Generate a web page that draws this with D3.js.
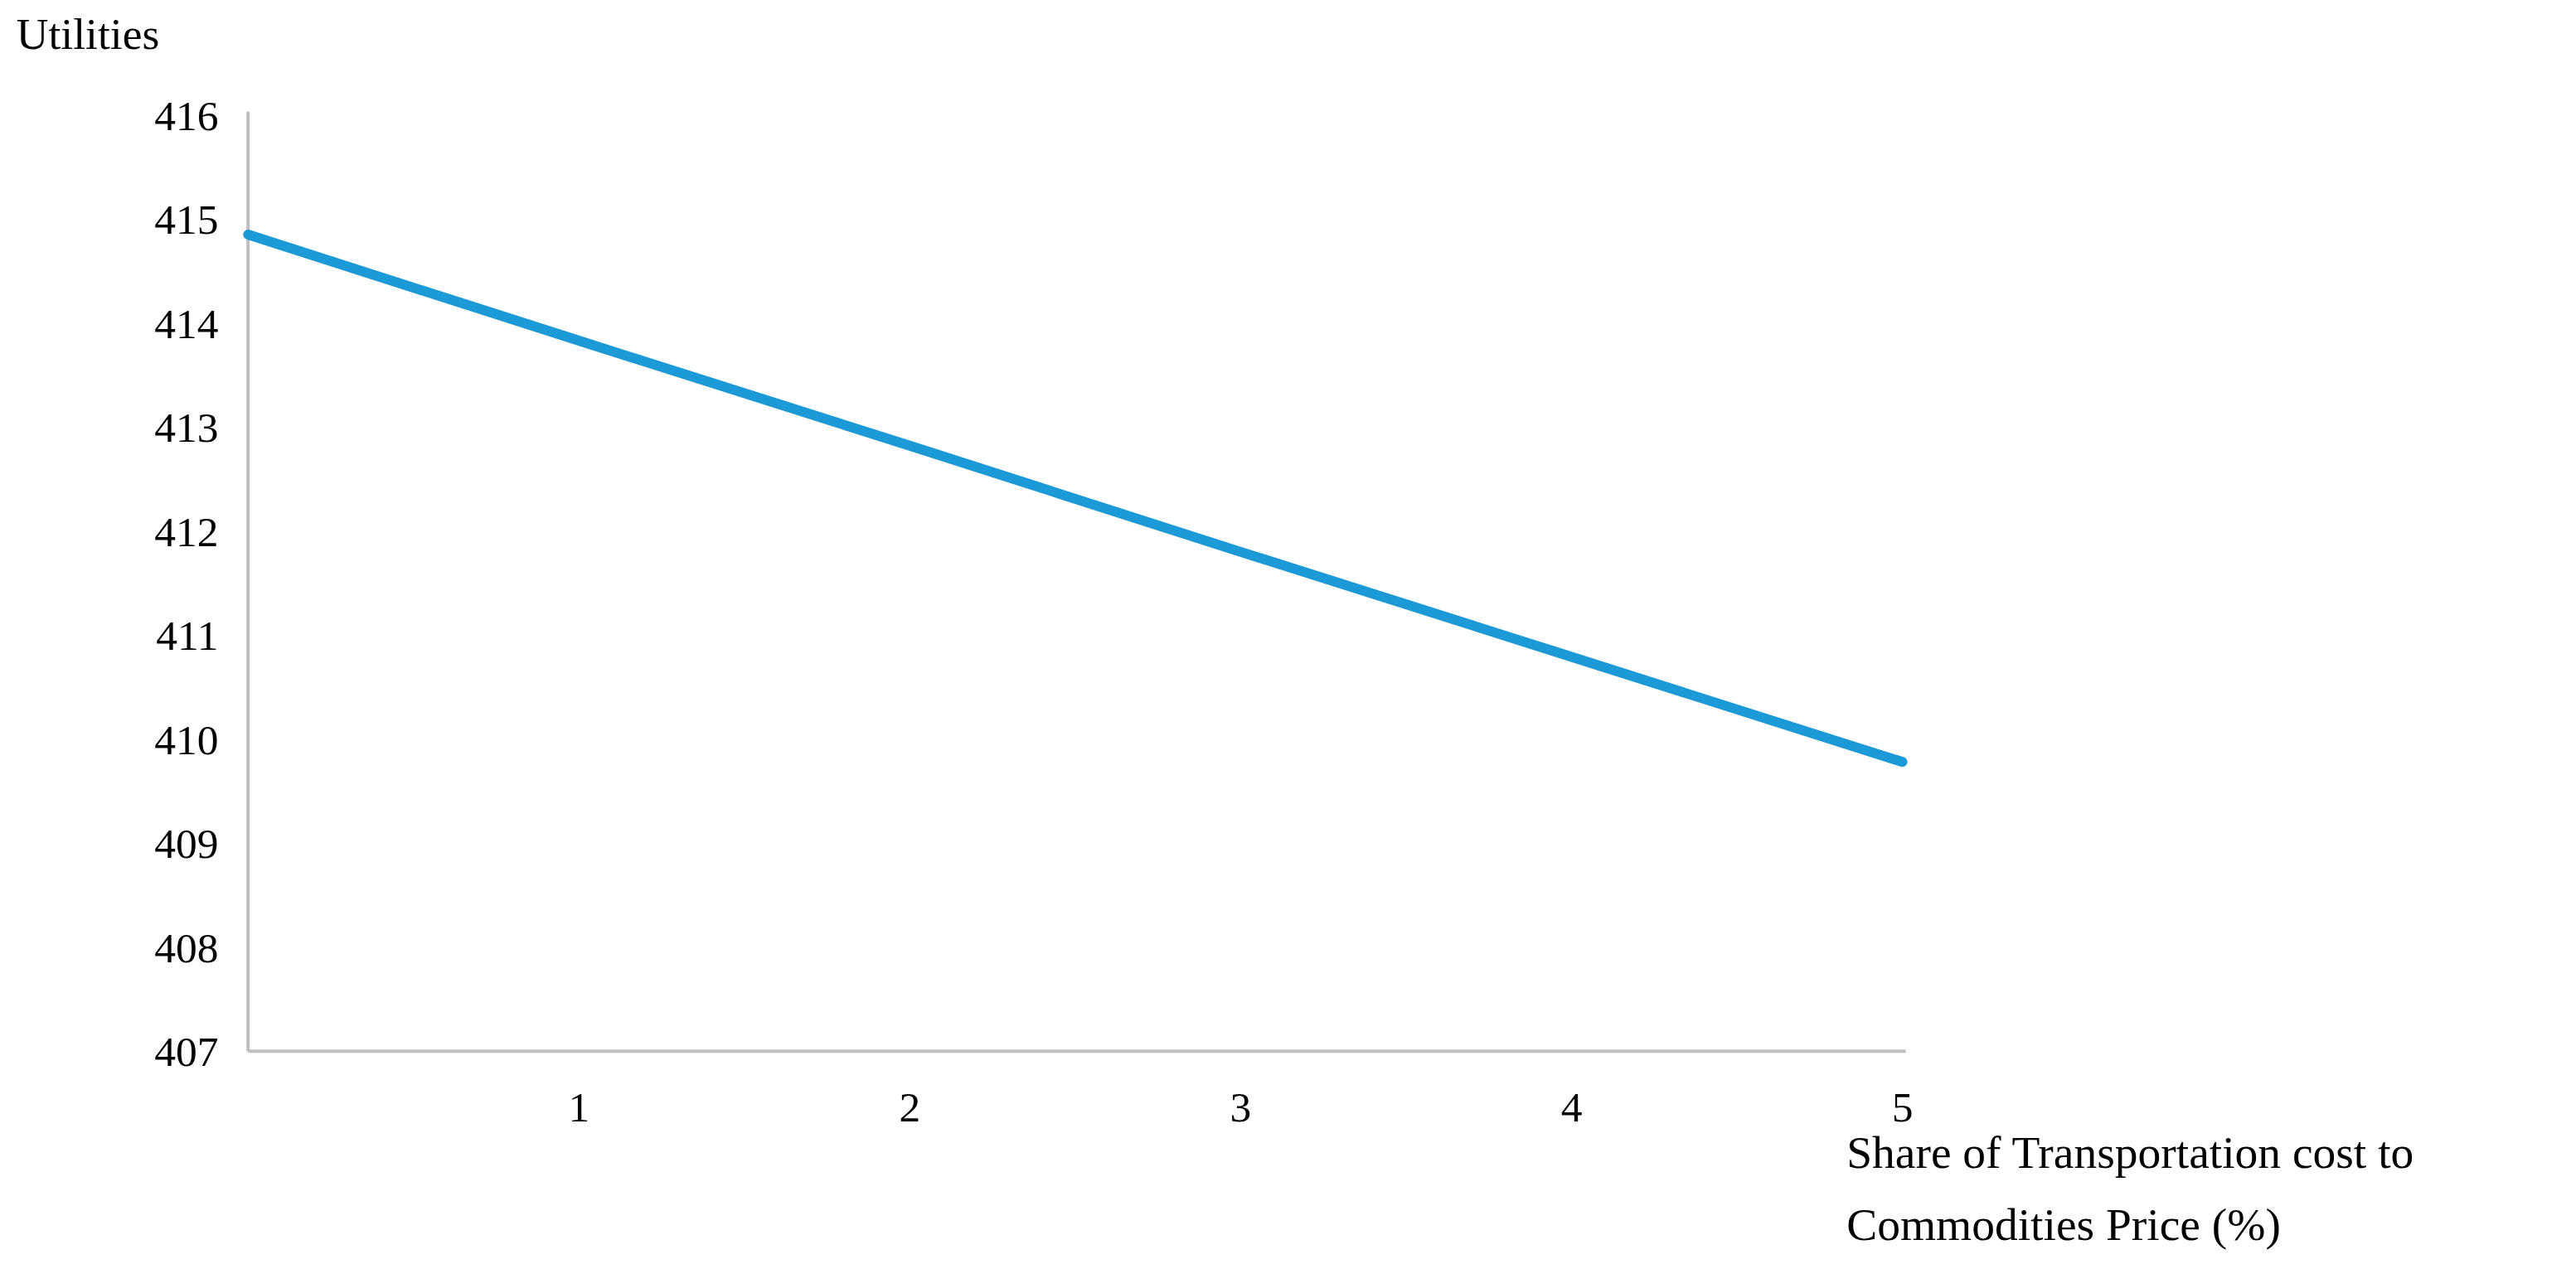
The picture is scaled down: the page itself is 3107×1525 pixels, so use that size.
<!DOCTYPE html><html><head><script src="https://cdn.jsdelivr.net/npm/d3@7"></script>
<style>body{margin:0;background:#fff}text{font-family:"Liberation Serif","DejaVu Serif",serif;fill:#000}</style></head><body>
<script>
const xValues=[0,1,2,3,4,5];
const utilities=[414.85,413.83,412.82,411.80,410.79,409.78];
const yTicks=[407,408,409,410,411,412,413,414,415,416];
const xTicks=[1,2,3,4,5];
const k=3107/1568;
const root=d3.select("body").append("svg").attr("width",3107).attr("height",1525);
const svg=root.append("g").attr("transform",`scale(${k})`);
const x=d3.scaleLinear().domain([0,5]).range([151,1158]);
const y=d3.scaleLinear().domain([407,416]).range([640,70]);
svg.append("line").attr("x1",151).attr("x2",151).attr("y1",68).attr("y2",640).attr("stroke","#bfbfbf").attr("stroke-width",2);
svg.append("line").attr("x1",151).attr("x2",1160).attr("y1",640).attr("y2",640).attr("stroke","#bfbfbf").attr("stroke-width",2);
svg.selectAll(".yt").data(yTicks).enter().append("text").attr("x",133).attr("y",d=>y(d)+9).attr("text-anchor","end").attr("font-size",26).text(d=>d);
svg.selectAll(".xt").data(xTicks).enter().append("text").attr("x",d=>x(d)).attr("y",683).attr("text-anchor","middle").attr("font-size",26).text(d=>d);
svg.append("path").datum(xValues.map((v,i)=>[v,utilities[i]])).attr("d",d3.line().x(d=>x(d[0])).y(d=>y(d[1]))).attr("fill","none").attr("stroke","#1b9ad7").attr("stroke-width",6).attr("stroke-linecap","round");
svg.append("text").attr("x",10).attr("y",30).attr("font-size",27).text("Utilities");
svg.append("text").attr("x",1124).attr("y",711).attr("font-size",28).text("Share of Transportation cost to");
svg.append("text").attr("x",1124).attr("y",755).attr("font-size",28).text("Commodities Price (%)");
</script></body></html>
